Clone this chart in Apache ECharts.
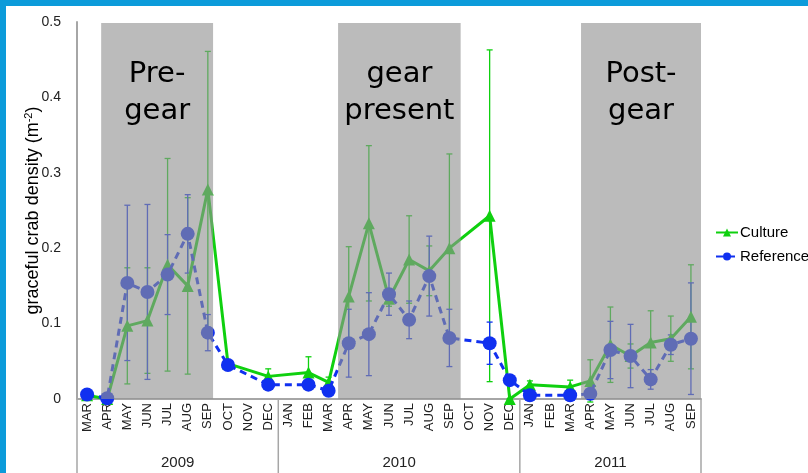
<!DOCTYPE html>
<html>
<head>
<meta charset="utf-8">
<script src="https://cdn.jsdelivr.net/npm/echarts@6/dist/echarts.min.js"></script>
<style>
  html, body { margin: 0; padding: 0; background: #ffffff; }
  #chart { width: 808px; height: 473px; }
</style>
</head>
<body>
<div id="chart"></div>
<script>
// Monthly sampling, Mar 2009 – Sep 2011
const months = [
  'MAR','APR','MAY','JUN','JUL','AUG','SEP','OCT','NOV','DEC',
  'JAN','FEB','MAR','APR','MAY','JUN','JUL','AUG','SEP','OCT','NOV','DEC',
  'JAN','FEB','MAR','APR','MAY','JUN','JUL','AUG','SEP'
];
const yearNames = ['2009', '2010', '2011'];
const yearMonthCounts = [10, 12, 9];

// Mean density (m^-2); null = not sampled
const cultureMean = [
  0.005, 0.000, 0.097, 0.104, 0.178, 0.150, 0.278, 0.047, null, 0.030,
  null, 0.035, 0.022, 0.136, 0.233, 0.133, 0.185, 0.170, 0.200, null, 0.243, 0.000,
  0.019, null, 0.016, 0.024, 0.072, 0.057, 0.075, 0.080, 0.109
];
const cultureSE = [
  0.006, 0.000, 0.077, 0.070, 0.141, 0.117, 0.183, 0.004, null, 0.010,
  null, 0.021, 0.007, 0.066, 0.103, 0.010, 0.058, 0.033, 0.125, null, 0.220, 0.000,
  0.005, null, 0.009, 0.028, 0.050, 0.016, 0.042, 0.030, 0.069
];
const referenceMean = [
  0.006, 0.001, 0.154, 0.142, 0.165, 0.219, 0.088, 0.045, null, 0.019,
  null, 0.019, 0.011, 0.074, 0.086, 0.139, 0.105, 0.163, 0.081, null, 0.074, 0.025,
  0.005, null, 0.005, 0.007, 0.065, 0.057, 0.026, 0.072, 0.080
];
const referenceSE = [
  0.000, 0.000, 0.103, 0.116, 0.053, 0.052, 0.024, 0.003, null, 0.002,
  null, 0.003, 0.002, 0.045, 0.055, 0.028, 0.025, 0.053, 0.038, null, 0.028, 0.003,
  0.000, null, 0.000, 0.003, 0.038, 0.042, 0.013, 0.013, 0.074
];

// Study phases, in month-index units along the time axis
const phaseNames = ['Pre-\ngear', 'gear\npresent', 'Post-\ngear'];
const phaseStart = [0.70, 12.47, 24.54];
const phaseEnd = [6.26, 18.56, 30.50];

const yTicks = [0, 0.1, 0.2, 0.3, 0.4, 0.5];

const GREEN = '#0fd00f';
const BLUE = '#1030f0';
const AXIS_GREY = '#a6a6a6';
const FONT = '"Liberation Sans", Arial, sans-serif';

function errorData(mean, se) {
  const out = [];
  mean.forEach((v, i) => {
    if (v != null && se[i] != null) out.push([i, v - se[i], v + se[i]]);
  });
  return out;
}

function errorBarRenderer(color) {
  return function (params, api) {
    const x = api.value(0);
    const lo = api.coord([x, api.value(1)]);
    const hi = api.coord([x, api.value(2)]);
    const hw = 3;
    const style = { stroke: color, lineWidth: 1.3, fill: null };
    return {
      type: 'group',
      children: [
        { type: 'line', shape: { x1: hi[0], y1: hi[1], x2: lo[0], y2: lo[1] }, style },
        { type: 'line', shape: { x1: hi[0] - hw, y1: hi[1], x2: hi[0] + hw, y2: hi[1] }, style },
        { type: 'line', shape: { x1: lo[0] - hw, y1: lo[1], x2: lo[0] + hw, y2: lo[1] }, style }
      ]
    };
  };
}

// year groups under the month labels
const yearData = [];
let acc = 0;
yearNames.forEach((name, i) => {
  yearData.push([acc - 0.5, acc + yearMonthCounts[i] - 0.5, name, i === yearNames.length - 1 ? 1 : 0]);
  acc += yearMonthCounts[i];
});

const phaseData = phaseNames.map((n, i) => [phaseStart[i], phaseEnd[i], n]);

const chart = echarts.init(document.getElementById('chart'));

chart.setOption({
  animation: false,
  backgroundColor: '#ffffff',
  textStyle: { fontFamily: FONT },
  grid: { left: 77, right: 107, top: 22, bottom: 74, containLabel: false },
  legend: {
    data: ['Culture', 'Reference'],
    orient: 'vertical',
    left: 710,
    top: 220,
    itemWidth: 22,
    itemHeight: 10,
    itemGap: 9,
    selectedMode: false,
    textStyle: { fontSize: 15, color: '#000', fontFamily: FONT, padding: [0, 0, 0, -3] }
  },
  xAxis: [
    {
      type: 'category',
      data: months,
      boundaryGap: true,
      axisLine: { onZero: false, lineStyle: { color: AXIS_GREY, width: 2 } },
      axisTick: { show: false },
      axisLabel: { interval: 0, rotate: 90, fontSize: 13, color: '#222', margin: 4, fontFamily: FONT },
      splitLine: { show: false }
    },
    {
      type: 'value',
      min: -0.5,
      max: 30.5,
      show: false
    }
  ],
  yAxis: {
    type: 'value',
    min: 0,
    max: 0.5,
    interval: 0.1,
    name: '{a|graceful crab density (m}{s|-2}{a|)}',
    nameLocation: 'middle',
    nameGap: 33,
    nameMoveOverlap: false,
    nameTextStyle: {
      rich: {
        a: { fontSize: 18, color: '#000', fontFamily: FONT, lineHeight: 21 },
        s: { fontSize: 11, color: '#000', fontFamily: FONT, verticalAlign: 'top', lineHeight: 12 }
      }
    },
    axisLine: { show: true, onZero: false, lineStyle: { color: AXIS_GREY, width: 2 } },
    axisTick: { show: false },
    splitLine: { show: false },
    axisLabel: {
      fontSize: 14,
      color: '#222',
      margin: 16,
      fontFamily: FONT,
      formatter: v => (yTicks.indexOf(+v.toFixed(1)) >= 0 ? (v === 0 ? '0' : v.toFixed(1)) : '')
    }
  },
  graphic: [
    { type: 'rect', left: 0, top: 0, shape: { width: 808, height: 6 }, style: { fill: '#0c9bda' }, z: 100 },
    { type: 'rect', left: 0, top: 0, shape: { width: 6, height: 473 }, style: { fill: '#0c9bda' }, z: 100 }
  ],
  series: [
    {
      name: 'Culture error',
      type: 'custom',
      xAxisIndex: 0,
      z: 2,
      silent: true,
      renderItem: errorBarRenderer(GREEN),
      data: errorData(cultureMean, cultureSE)
    },
    {
      name: 'Reference error',
      type: 'custom',
      xAxisIndex: 0,
      z: 2,
      silent: true,
      renderItem: errorBarRenderer(BLUE),
      data: errorData(referenceMean, referenceSE)
    },
    {
      name: 'Culture',
      type: 'line',
      xAxisIndex: 0,
      z: 3,
      data: cultureMean,
      connectNulls: true,
      symbol: 'triangle',
      symbolSize: 12,
      silent: true,
      itemStyle: { color: GREEN },
      lineStyle: { color: GREEN, width: 3 }
    },
    {
      name: 'Reference',
      type: 'line',
      xAxisIndex: 0,
      z: 4,
      data: referenceMean,
      connectNulls: true,
      symbol: 'circle',
      symbolSize: 14,
      silent: true,
      itemStyle: { color: BLUE },
      lineStyle: { color: BLUE, width: 3, type: [7, 5] }
    },
    {
      name: 'Phases',
      type: 'custom',
      xAxisIndex: 1,
      z: 10,
      silent: true,
      clip: false,
      renderItem: function (params, api) {
        const tl = api.coord([api.value(0), 0.5]);
        const br = api.coord([api.value(1), 0]);
        return {
          type: 'group',
          children: [
            {
              type: 'rect',
              shape: { x: tl[0], y: tl[1] + 1, width: br[0] - tl[0], height: br[1] - tl[1] - 1 },
              style: { fill: 'rgba(145,145,145,0.62)' }
            },
            {
              type: 'text',
              x: (tl[0] + br[0]) / 2,
              y: tl[1] + 71,
              style: {
                text: api.value(2),
                fill: '#000',
                fontSize: 29,
                fontFamily: '"DejaVu Sans", sans-serif',
                align: 'center',
                verticalAlign: 'middle',
                lineHeight: 37
              }
            }
          ]
        };
      },
      data: phaseData
    },
    {
      name: 'Years',
      type: 'custom',
      xAxisIndex: 1,
      z: 10,
      silent: true,
      clip: false,
      renderItem: function (params, api) {
        const a = api.coord([api.value(0), 0]);
        const b = api.coord([api.value(1), 0]);
        const style = { stroke: AXIS_GREY, lineWidth: 1.5 };
        const children = [
          { type: 'line', shape: { x1: a[0], y1: a[1], x2: a[0], y2: a[1] + 74 }, style },
          {
            type: 'text',
            x: (a[0] + b[0]) / 2,
            y: a[1] + 64,
            style: { text: api.value(2), fill: '#222', fontSize: 15, fontFamily: FONT, align: 'center', verticalAlign: 'middle' }
          }
        ];
        if (api.value(3) === 1) {
          children.push({ type: 'line', shape: { x1: b[0], y1: b[1], x2: b[0], y2: b[1] + 74 }, style });
        }
        return { type: 'group', children };
      },
      data: yearData
    }
  ]
});
</script>
</body>
</html>
